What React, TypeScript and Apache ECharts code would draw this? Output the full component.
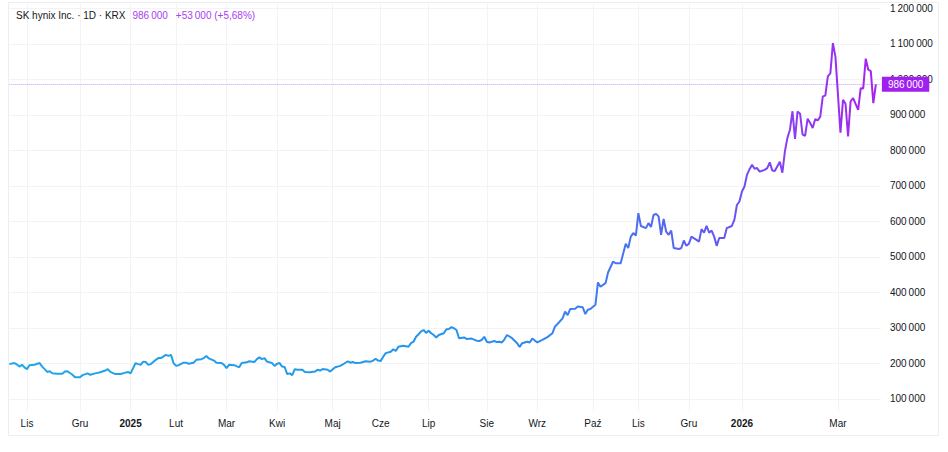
import { useEffect, useRef } from 'react';
import * as echarts from 'echarts';

// KRX trading calendar used for the category axis
const FIRST_DAY = '2024-10-23';
const LAST_DAY = '2026-03-26';
const HOLIDAYS = [
  '2024-12-25', '2024-12-31', '2025-01-01', '2025-01-27', '2025-01-28', '2025-01-29', '2025-01-30',
  '2025-03-03', '2025-05-01', '2025-05-05', '2025-05-06', '2025-06-03', '2025-06-06', '2025-08-15',
  '2025-10-03', '2025-10-06', '2025-10-07', '2025-10-08', '2025-10-09', '2025-12-25', '2025-12-31',
  '2026-01-01', '2026-02-16', '2026-02-17', '2026-02-18', '2026-03-02',
];

const MONTHS_PL = ['Sty', 'Lut', 'Mar', 'Kwi', 'Maj', 'Cze', 'Lip', 'Sie', 'Wrz', 'Paź', 'Lis', 'Gru'];
const HIDDEN_LABEL_MONTHS = ['2026-02'];
const Y_TICKS = [100000, 200000, 300000, 400000, 500000, 600000, 700000, 800000, 900000, 1000000, 1100000, 1200000];

// Closing prices (KRW, thousands)
const SAMPLE_DATES = [
  '2024-10-23', '2024-10-25', '2024-10-28', '2024-10-29', '2024-10-30', '2024-10-31', '2024-11-01', '2024-11-04',
  '2024-11-06', '2024-11-07', '2024-11-08', '2024-11-11', '2024-11-12', '2024-11-13', '2024-11-14', '2024-11-15',
  '2024-11-19', '2024-11-21', '2024-11-22', '2024-11-25', '2024-11-27', '2024-11-28', '2024-12-02', '2024-12-03',
  '2024-12-05', '2024-12-06', '2024-12-10', '2024-12-12', '2024-12-16', '2024-12-17', '2024-12-18', '2024-12-20',
  '2024-12-24', '2024-12-27', '2024-12-30', '2025-01-02', '2025-01-06', '2025-01-07', '2025-01-08', '2025-01-09',
  '2025-01-10', '2025-01-13', '2025-01-14', '2025-01-16', '2025-01-17', '2025-01-20', '2025-01-22', '2025-01-23',
  '2025-01-24', '2025-01-31', '2025-02-03', '2025-02-04', '2025-02-06', '2025-02-07', '2025-02-10', '2025-02-12',
  '2025-02-13', '2025-02-17', '2025-02-18', '2025-02-19', '2025-02-20', '2025-02-24', '2025-02-25', '2025-02-27',
  '2025-02-28', '2025-03-04', '2025-03-05', '2025-03-07', '2025-03-11', '2025-03-12', '2025-03-14', '2025-03-17',
  '2025-03-19', '2025-03-20', '2025-03-21', '2025-03-24', '2025-03-25', '2025-03-26', '2025-03-28', '2025-03-31',
  '2025-04-01', '2025-04-02', '2025-04-03', '2025-04-04', '2025-04-07', '2025-04-08', '2025-04-09', '2025-04-10',
  '2025-04-11', '2025-04-15', '2025-04-16', '2025-04-18', '2025-04-22', '2025-04-23', '2025-04-24', '2025-04-25',
  '2025-04-29', '2025-04-30', '2025-05-07', '2025-05-09', '2025-05-12', '2025-05-14', '2025-05-15', '2025-05-16',
  '2025-05-19', '2025-05-21', '2025-05-23', '2025-05-27', '2025-05-28', '2025-05-29', '2025-05-30', '2025-06-02',
  '2025-06-04', '2025-06-05', '2025-06-10', '2025-06-11', '2025-06-12', '2025-06-13', '2025-06-17', '2025-06-19',
  '2025-06-20', '2025-06-23', '2025-06-24', '2025-06-25', '2025-06-26', '2025-06-27', '2025-06-30', '2025-07-01',
  '2025-07-02', '2025-07-03', '2025-07-04', '2025-07-07', '2025-07-09', '2025-07-10', '2025-07-11', '2025-07-14',
  '2025-07-15', '2025-07-16', '2025-07-17', '2025-07-21', '2025-07-22', '2025-07-24', '2025-07-28', '2025-07-29',
  '2025-07-30', '2025-07-31', '2025-08-01', '2025-08-04', '2025-08-06', '2025-08-07', '2025-08-08', '2025-08-11',
  '2025-08-12', '2025-08-13', '2025-08-18', '2025-08-20', '2025-08-21', '2025-08-22', '2025-08-26', '2025-08-27',
  '2025-08-28', '2025-09-01', '2025-09-03', '2025-09-05', '2025-09-09', '2025-09-10', '2025-09-11', '2025-09-15',
  '2025-09-16', '2025-09-17', '2025-09-18', '2025-09-22', '2025-09-23', '2025-09-25', '2025-09-26', '2025-09-29',
  '2025-09-30', '2025-10-02', '2025-10-10', '2025-10-13', '2025-10-15', '2025-10-16', '2025-10-20', '2025-10-21',
  '2025-10-23', '2025-10-27', '2025-10-28', '2025-10-29', '2025-10-30', '2025-10-31', '2025-11-03', '2025-11-04',
  '2025-11-06', '2025-11-07', '2025-11-10', '2025-11-11', '2025-11-12', '2025-11-13', '2025-11-14', '2025-11-17',
  '2025-11-18', '2025-11-19', '2025-11-20', '2025-11-21', '2025-11-25', '2025-11-26', '2025-11-27', '2025-11-28',
  '2025-12-01', '2025-12-02', '2025-12-04', '2025-12-05', '2025-12-08', '2025-12-09', '2025-12-10', '2025-12-11',
  '2025-12-12', '2025-12-15', '2025-12-16', '2025-12-17', '2025-12-19', '2025-12-22', '2025-12-24', '2025-12-26',
  '2025-12-29', '2025-12-30', '2026-01-02', '2026-01-05', '2026-01-06', '2026-01-07', '2026-01-08', '2026-01-09',
  '2026-01-12', '2026-01-13', '2026-01-15', '2026-01-16', '2026-01-19', '2026-01-20', '2026-01-21', '2026-01-23',
  '2026-01-26', '2026-01-27', '2026-01-28', '2026-01-29', '2026-01-30', '2026-02-02', '2026-02-03', '2026-02-04',
  '2026-02-05', '2026-02-06', '2026-02-09', '2026-02-10', '2026-02-11', '2026-02-12', '2026-02-13', '2026-02-19',
  '2026-02-20', '2026-02-23', '2026-02-24', '2026-02-25', '2026-02-26', '2026-02-27', '2026-03-04', '2026-03-05',
  '2026-03-06', '2026-03-09', '2026-03-10', '2026-03-11', '2026-03-13', '2026-03-16', '2026-03-17', '2026-03-18',
  '2026-03-19', '2026-03-20', '2026-03-23', '2026-03-24',
];
const SAMPLE_VALUES_K = [
  198, 201, 197, 191, 196, 189, 184, 195,
  196, 199, 201, 191, 184, 176, 178, 172,
  171, 171, 177, 178, 168, 161, 161, 167,
  172, 168, 172, 175, 180, 184, 176, 170,
  170, 174, 176, 172, 201, 198, 196, 205,
  204, 196, 198, 210, 215, 215, 224, 221,
  224, 201, 193, 195, 202, 202, 199, 202,
  210, 212, 215, 221, 214, 208, 202, 201,
  196, 187, 196, 195, 189, 201, 203, 206,
  204, 212, 217, 212, 215, 205, 201, 193,
  199, 201, 191, 190, 170, 172, 167, 184,
  182, 182, 176, 175, 177, 182, 180, 184,
  182, 177, 189, 193, 197, 206, 202, 204,
  201, 202, 206, 205, 208, 213, 208, 207,
  219, 229, 233, 240, 235, 247, 250, 247,
  257, 261, 275, 282, 290, 294, 286, 292,
  285, 280, 273, 280, 285, 296, 297, 302,
  299, 294, 271, 273, 269, 270, 264, 263,
  266, 275, 261, 259, 263, 260, 261, 259,
  268, 280, 271, 257, 246, 257, 261, 259,
  270, 259, 266, 274, 285, 304, 311, 327,
  346, 336, 353, 354, 360, 358, 339, 351,
  353, 365, 428, 416, 426, 456, 487, 482,
  482, 537, 525, 557, 567, 560, 623, 587,
  581, 595, 584, 618, 621, 614, 562, 607,
  571, 562, 574, 525, 522, 525, 546, 531,
  537, 557, 548, 543, 578, 568, 587, 568,
  574, 557, 531, 553, 553, 581, 587, 604,
  646, 656, 684, 698, 731, 747, 759, 748,
  750, 740, 745, 750, 766, 743, 742, 768,
  737, 797, 835, 858, 910, 832, 909, 903,
  844, 841, 889, 877, 863, 888, 884, 895,
  952, 954, 1008, 1017, 1102, 1064, 850, 942,
  931, 839, 938, 947, 914, 975, 974, 1058,
  1027, 1023, 933, 986,
];

const TITLE_MAIN = 'SK hynix Inc. · 1D · KRX';
const CHANGE_ABS = 53000;
const CHANGE_PCT = '5,68%';

const FONT = '"Liberation Sans", Arial, sans-serif';
const TEXT_COLOR = '#131722';
const PURPLE = '#a020f0';

function buildTradingDays(): string[] {
  const out: string[] = [];
  const hol = new Set(HOLIDAYS);
  const d = new Date(FIRST_DAY + 'T00:00:00Z');
  const end = new Date(LAST_DAY + 'T00:00:00Z');
  while (d.getTime() <= end.getTime()) {
    const wd = d.getUTCDay();
    const s = d.toISOString().slice(0, 10);
    if (wd !== 0 && wd !== 6 && !hol.has(s)) out.push(s);
    d.setUTCDate(d.getUTCDate() + 1);
  }
  return out;
}

const fmt = (v: number) => String(v).replace(/\B(?=(\d{3})+(?!\d))/g, '\u2009');

export default function App() {
  const ref = useRef<HTMLDivElement>(null);

  useEffect(() => {
    if (!ref.current) return;
    const chart = echarts.init(ref.current, undefined, { renderer: 'svg' });

    const days = buildTradingDays();
    const dayIndex: Record<string, number> = {};
    days.forEach((d, i) => (dayIndex[d] = i));
    const isMonthStart = (i: number) =>
      i > 0 && days[i].slice(0, 7) !== days[i - 1].slice(0, 7) && !HIDDEN_LABEL_MONTHS.includes(days[i].slice(0, 7));

    const values = SAMPLE_VALUES_K.map((v) => v * 1000);
    const data = SAMPLE_DATES.map((d, i) => [dayIndex[d], values[i]]);
    const last = values[values.length - 1];
    const prevPctSign = CHANGE_ABS >= 0 ? '+' : '−';

    chart.setOption({
      animation: false,
      backgroundColor: '#ffffff',
      textStyle: { fontFamily: FONT },
      title: {
        left: 16,
        top: 10,
        padding: 0,
        text: `{a|${TITLE_MAIN}}{b|${fmt(last)}}{c|${prevPctSign}${fmt(CHANGE_ABS)} (${prevPctSign}${CHANGE_PCT})}`,
        textStyle: {
          fontSize: 10,
          fontWeight: 'normal',
          rich: {
            a: { color: TEXT_COLOR, fontSize: 10, fontFamily: FONT },
            b: { color: '#a83ef0', fontSize: 10, fontFamily: FONT, padding: [0, 0, 0, 7] },
            c: { color: '#a83ef0', fontSize: 10, fontFamily: FONT, padding: [0, 0, 0, 8] },
          },
        },
      },
      graphic: [
        {
          type: 'rect',
          silent: true,
          z: -10,
          shape: { x: 8.5, y: 2.5, width: 930, height: 433 },
          style: { fill: 'none', stroke: '#eceff2', lineWidth: 1 },
        },
      ],
      grid: { left: 9.3, right: 67.1, top: 4, bottom: 41, containLabel: false, outerBoundsMode: 'none' },
      xAxis: {
        type: 'category',
        data: days,
        boundaryGap: false,
        axisLine: { show: false },
        axisTick: { show: false },
        axisLabel: {
          interval: (i: number) => isMonthStart(i),
          margin: 7,
          fontSize: 10,
          fontFamily: FONT,
          color: TEXT_COLOR,
          formatter: (value: string) => {
            const [y, m] = value.split('-');
            if (m === '01') return `{y|${y}}`;
            return MONTHS_PL[Number(m) - 1];
          },
          rich: { y: { fontWeight: 'bold', fontSize: 10, fontFamily: FONT, color: TEXT_COLOR } },
        },
        splitLine: {
          show: true,
          interval: (i: number) => isMonthStart(i),
          lineStyle: { color: '#f3f3f5', width: 1 },
        },
      },
      yAxis: {
        type: 'value',
        position: 'right',
        min: 66000,
        max: 1212000,
        axisLine: { show: false },
        axisTick: { show: false, customValues: Y_TICKS },
        axisLabel: {
          customValues: Y_TICKS,
          margin: 9,
          fontSize: 10,
          fontFamily: FONT,
          color: TEXT_COLOR,
          formatter: (v: number) => fmt(v),
        },
        splitLine: { show: true, lineStyle: { color: '#f3f3f5', width: 1 } },
      },
      series: [
        {
          type: 'line',
          data,
          showSymbol: false,
          symbol: 'none',
          z: 3,
          lineStyle: {
            width: 2,
            color: new echarts.graphic.LinearGradient(0, 0, 1, 0, [
              { offset: 0, color: '#1fa7e8' },
              { offset: 0.5, color: '#2494ec' },
              { offset: 0.66, color: '#3b80f0' },
              { offset: 0.75, color: '#5268f2' },
              { offset: 0.82, color: '#6456f2' },
              { offset: 0.9, color: '#8a3ef2' },
              { offset: 1, color: '#a524f0' },
            ]),
          },
          markLine: {
            silent: true,
            symbol: 'none',
            animation: false,
            lineStyle: { type: 'dotted', color: 'rgba(160,32,240,0.45)', width: 1 },
            label: {
              show: true,
              position: 'end',
              distance: 1,
              formatter: () => fmt(last),
              color: '#ffffff',
              backgroundColor: PURPLE,
              padding: [2, 6, 2, 6],
              fontSize: 10,
              lineHeight: 11,
              fontFamily: FONT,
            },
            data: [{ yAxis: last }],
          },
        },
      ],
    });

    return () => chart.dispose();
  }, []);

  return (
    <div
      ref={ref}
      style={{ position: 'absolute', left: 0, top: 0, width: 948, height: 452, background: '#ffffff' }}
    />
  );
}
